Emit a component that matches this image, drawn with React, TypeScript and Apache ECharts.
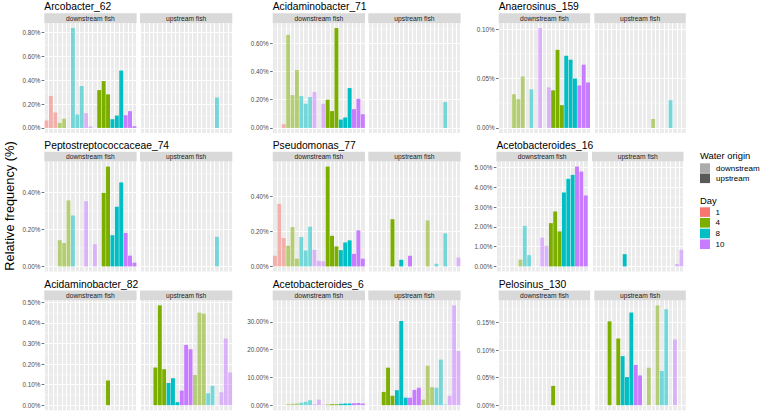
import React, { useEffect, useRef } from "react";
import * as echarts from "echarts";

// ---------- categories ----------
const taxa = [
  "Arcobacter_62", "Acidaminobacter_71", "Anaerosinus_159",
  "Peptostreptococcaceae_74", "Pseudomonas_77", "Acetobacteroides_16",
  "Acidaminobacter_82", "Acetobacteroides_6", "Pelosinus_130",
];
const facetNames = ["downstream fish", "upstream fish"];
const samples = [
  "s01", "s02", "s03", "s04", "s05", "s06", "s07", "s08", "s09", "s10", "s11",
  "s12", "s13", "s14", "s15", "s16", "s17", "s18", "s19", "s20", "s21",
];
// day and water origin of each sample slot, per fish facet
const downFishDay = [1, 1, 1, 4, 4, 4, 8, 8, 8, 10, 10, 10, 4, 4, 4, 8, 8, 8, 10, 10, 10];
const downFishWater = ["downstream", "downstream", "downstream", "downstream", "downstream", "downstream",
  "downstream", "downstream", "downstream", "downstream", "downstream", "downstream",
  "upstream", "upstream", "upstream", "upstream", "upstream", "upstream", "upstream", "upstream", "upstream"];
const upFishDay = [0, 0, 0, 4, 4, 4, 8, 8, 8, 10, 10, 10, 4, 4, 4, 8, 8, 8, 10, 10, 10];
const upFishWater = ["", "", "", "upstream", "upstream", "upstream", "upstream", "upstream", "upstream",
  "upstream", "upstream", "upstream", "downstream", "downstream", "downstream", "downstream",
  "downstream", "downstream", "downstream", "downstream", "downstream"];

const dayLevels = [1, 4, 8, 10];
const dayColors = ["#F8766D", "#7CAE00", "#00BFC4", "#C77CFF"];
const waterLevels = ["downstream", "upstream"];
const waterAlpha = [0.5, 1];

// ---------- values (relative frequency, %) ----------
const arcobacter62Down = [0.062, 0.268, 0.13, 0.042, 0.076, 0, 0.839, 0.113, 0.352, 0.124, 0.011, 0, 0.318, 0.394, 0.282, 0.073, 0.104, 0.482, 0.107, 0.141, 0.014];
const arcobacter62Up = [0, 0, 0, 0, 0, 0, 0, 0, 0, 0, 0, 0, 0, 0, 0, 0, 0, 0.256, 0, 0, 0];
const acidaminobacter71Down = [0, 0, 0.026, 0.659, 0.232, 0.41, 0.225, 0.171, 0.218, 0.254, 0, 0.171, 0.2, 0.119, 0.707, 0.059, 0.074, 0.282, 0.133, 0.206, 0.097];
const acidaminobacter71Up = [0, 0, 0, 0, 0, 0, 0, 0, 0, 0, 0, 0, 0, 0, 0, 0, 0, 0.183, 0, 0, 0];
const anaerosinus159Down = [0, 0, 0, 0.034, 0.029, 0.052, 0, 0.039, 0, 0.101, 0, 0.041, 0.038, 0.079, 0.023, 0.073, 0.069, 0.05, 0.043, 0.064, 0.046];
const anaerosinus159Up = [0, 0, 0, 0, 0, 0, 0, 0, 0, 0, 0, 0, 0, 0.009, 0, 0, 0, 0.028, 0, 0, 0];
const pepto74Down = [0, 0, 0, 0.141, 0.126, 0.355, 0.274, 0, 0, 0.35, 0, 0.119, 0, 0.396, 0.537, 0.168, 0.321, 0.452, 0.18, 0.058, 0.02];
const pepto74Up = [0, 0, 0, 0, 0, 0, 0, 0, 0, 0, 0, 0, 0, 0, 0, 0, 0, 0.159, 0, 0, 0];
const pseudomonas77Down = [0.061, 0.358, 0.162, 0.118, 0.225, 0.044, 0.168, 0.091, 0.227, 0.095, 0.032, 0.029, 0.571, 0.175, 0.114, 0.093, 0.137, 0.149, 0.072, 0.206, 0.044];
const pseudomonas77Up = [0, 0, 0, 0, 0, 0.27, 0, 0.038, 0, 0.061, 0, 0, 0, 0.263, 0, 0.015, 0, 0.189, 0, 0, 0.051];
const acetobacteroides16Down = [0, 0, 0, 0, 0, 0.34, 2.05, 0.57, 0, 0, 1.46, 1.04, 2.19, 2.78, 1.77, 3.74, 4.43, 4.63, 5.05, 4.8, 3.59];
const acetobacteroides16Up = [0, 0, 0, 0, 0, 0, 0, 0.62, 0, 0, 0, 0, 0, 0, 0, 0, 0, 0, 0, 0.12, 0.84];
const acidaminobacter82Down = [0, 0, 0, 0, 0, 0, 0, 0, 0, 0, 0, 0, 0, 0, 0.12, 0, 0, 0, 0, 0, 0];
const acidaminobacter82Up = [0, 0, 0, 0.183, 0.485, 0.175, 0.108, 0.131, 0.015, 0.071, 0.293, 0.272, 0.147, 0.45, 0.445, 0.058, 0.094, 0, 0.063, 0.324, 0.159];
const acetobacteroides6Down = [0, 0, 0, 0.35, 0.5, 0.6, 0.9, 1.2, 1.8, 0.35, 2.0, 0.2, 0.2, 0.35, 0.35, 0.5, 0.6, 0.6, 0.7, 0.8, 0.6];
const acetobacteroides6Up = [0, 0, 0, 4.8, 13.5, 3.4, 5.4, 30.3, 2.7, 2.7, 5.5, 6.3, 2.0, 14.2, 6.5, 6.3, 16.4, 0.2, 3.4, 35.9, 19.5];
const pelosinus130Down = [0, 0, 0, 0, 0, 0, 0, 0, 0, 0, 0, 0, 0.035, 0, 0, 0, 0, 0, 0, 0, 0];
const pelosinus130Up = [0, 0, 0, 0.152, 0, 0.121, 0.089, 0.051, 0.168, 0.073, 0.054, 0, 0.068, 0, 0.181, 0.062, 0.174, 0, 0.119, 0, 0];

// y tick step (%) for each taxon
const tickSteps = [0.2, 0.2, 0.05, 0.2, 0.2, 1, 0.1, 10, 0.05];

const taxonValues = [
  [arcobacter62Down, arcobacter62Up],
  [acidaminobacter71Down, acidaminobacter71Up],
  [anaerosinus159Down, anaerosinus159Up],
  [pepto74Down, pepto74Up],
  [pseudomonas77Down, pseudomonas77Up],
  [acetobacteroides16Down, acetobacteroides16Up],
  [acidaminobacter82Down, acidaminobacter82Up],
  [acetobacteroides6Down, acetobacteroides6Up],
  [pelosinus130Down, pelosinus130Up],
];

// ---------- layout ----------
const FONT = "'Liberation Sans', Arial, Helvetica, sans-serif";
const colLeft = [44.3, 272.7, 498.7];
const colPanelW = [92.3, 92.3, 91.5];
const colGap = [3.4, 3.3, 4.1];
const rowTop = [23.1, 161.6, 300.4];
const taxonShift = [0, 0, 0, 0, 0, -2.3, 0, 0, 0];
const panelH = 109.8;
const stripH = 9.8;

function rgba(hex: string, a: number) {
  const r = parseInt(hex.slice(1, 3), 16);
  const g = parseInt(hex.slice(3, 5), 16);
  const b = parseInt(hex.slice(5, 7), 16);
  return `rgba(${r},${g},${b},${a})`;
}

function buildOption() {
  const grid: any[] = [];
  const xAxis: any[] = [];
  const yAxis: any[] = [];
  const series: any[] = [];
  const graphic: any[] = [];

  taxa.forEach((name, t) => {
    const row = Math.floor(t / 3);
    const col = t % 3;
    const vals = taxonValues[t];
    const M = Math.max(...vals[0], ...vals[1]);
    const min = -0.05 * M;
    const max = 1.05 * M;
    const step = tickSteps[t];
    const majors: number[] = [];
    for (let k = 0; k * step <= max + 1e-12; k++) majors.push(+(k * step).toFixed(6));
    const minors: number[] = [];
    for (let k = 0; (k + 0.5) * step <= max; k++) minors.push(+((k + 0.5) * step).toFixed(6));
    const baseLeft = colLeft[col] + taxonShift[t];

    // title
    graphic.push({
      type: "text", x: baseLeft, y: rowTop[row] - stripH - 6.6,
      style: { text: name, fill: "#000", font: `10.3px ${FONT}`, textAlign: "left", textVerticalAlign: "middle", align: "left", verticalAlign: "middle" },
    });

    facetNames.forEach((fname, k) => {
      const gi = grid.length;
      const left = baseLeft + k * (colPanelW[col] + colGap[col]);
      const top = rowTop[row];
      grid.push({ left, top, width: colPanelW[col], height: panelH, show: true, backgroundColor: "#EBEBEB", borderWidth: 0, containLabel: false });
      xAxis.push({
        type: "category", gridIndex: gi, data: samples, boundaryGap: true,
        axisLine: { show: false }, axisTick: { show: false, interval: 0 }, axisLabel: { show: false, interval: 0 },
        splitLine: { show: true, interval: 0, lineStyle: { color: "#FFFFFF", width: 1 } },
      });
      yAxis.push({
        type: "value", gridIndex: gi, min, max, position: "left",
        axisLine: { show: false },
        axisTick: { show: k === 0, customValues: majors, length: 2.6, lineStyle: { color: "#333333", width: 0.7 } },
        axisLabel: {
          show: k === 0, customValues: majors, color: "#4D4D4D", fontSize: 6.3, fontFamily: FONT, margin: 4,
          formatter: (v: number) => `${v.toFixed(2)}%`,
        },
        splitLine: { show: true, lineStyle: { color: "#FFFFFF", width: 0.9 } },
      });
      yAxis.push({
        type: "value", gridIndex: gi, min, max, position: "left", show: true,
        axisLine: { show: false },
        axisTick: { show: false, customValues: minors },
        axisLabel: { show: false, customValues: minors },
        splitLine: { show: true, lineStyle: { color: "#FFFFFF", width: 0.45 } },
      });
      const days = k === 0 ? downFishDay : upFishDay;
      const waters = k === 0 ? downFishWater : upFishWater;
      series.push({
        type: "bar", xAxisIndex: gi, yAxisIndex: 2 * gi, barCategoryGap: "10%",
        data: vals[k].map((v, i) => {
          if (!v) return "-";
          const di = dayLevels.indexOf(days[i]);
          const wi = waterLevels.indexOf(waters[i]);
          return { value: v, itemStyle: { color: rgba(dayColors[di], waterAlpha[wi]) } };
        }),
      });
      // strip
      graphic.push({ type: "rect", shape: { x: left, y: top - stripH, width: colPanelW[col], height: stripH }, style: { fill: "#D9D9D9" } });
      graphic.push({
        type: "text", x: left + colPanelW[col] / 2, y: top - stripH / 2,
        style: { text: fname, fill: "#1A1A1A", font: `6.7px ${FONT}`, textAlign: "center", textVerticalAlign: "middle", align: "center", verticalAlign: "middle" },
      });
    });
  });

  // y-axis title
  graphic.push({
    type: "text", x: 9, y: 206, rotation: Math.PI / 2,
    style: { text: "Relative frequency (%)", fill: "#000", font: `12.8px ${FONT}`, textAlign: "center", textVerticalAlign: "middle", align: "center", verticalAlign: "middle" },
  });

  // legend: water origin
  const lx = 700;
  graphic.push({ type: "text", x: lx, y: 155, style: { text: "Water origin", fill: "#000", font: `9.4px ${FONT}`, textVerticalAlign: "middle", verticalAlign: "middle" } });
  waterLevels.forEach((w, i) => {
    const y = 163.3 + i * 10.2;
    graphic.push({ type: "rect", shape: { x: lx, y, width: 10, height: 9.6 }, style: { fill: rgba("#595959", waterAlpha[i]) } });
    graphic.push({ type: "text", x: lx + 16, y: y + 4.8, style: { text: w, fill: "#000", font: `8px ${FONT}`, textVerticalAlign: "middle", verticalAlign: "middle" } });
  });
  graphic.push({ type: "text", x: lx, y: 200, style: { text: "Day", fill: "#000", font: `9.4px ${FONT}`, textVerticalAlign: "middle", verticalAlign: "middle" } });
  dayLevels.forEach((d, i) => {
    const y = 207.3 + i * 10.7;
    graphic.push({ type: "rect", shape: { x: lx, y, width: 10, height: 9.6 }, style: { fill: dayColors[i] } });
    graphic.push({ type: "text", x: lx + 15.5, y: y + 4.8, style: { text: String(d), fill: "#000", font: `8px ${FONT}`, textVerticalAlign: "middle", verticalAlign: "middle" } });
  });

  return {
    animation: false,
    backgroundColor: "#FFFFFF",
    textStyle: { fontFamily: FONT },
    grid, xAxis, yAxis, series, graphic,
  };
}

export default function App() {
  const ref = useRef<HTMLDivElement>(null);
  useEffect(() => {
    if (!ref.current) return;
    const chart = echarts.init(ref.current, undefined, { renderer: "svg" });
    chart.setOption(buildOption() as any);
    return () => chart.dispose();
  }, []);
  return <div ref={ref} style={{ position: "fixed", left: 0, top: 0, width: 760, height: 412 }} />;
}
